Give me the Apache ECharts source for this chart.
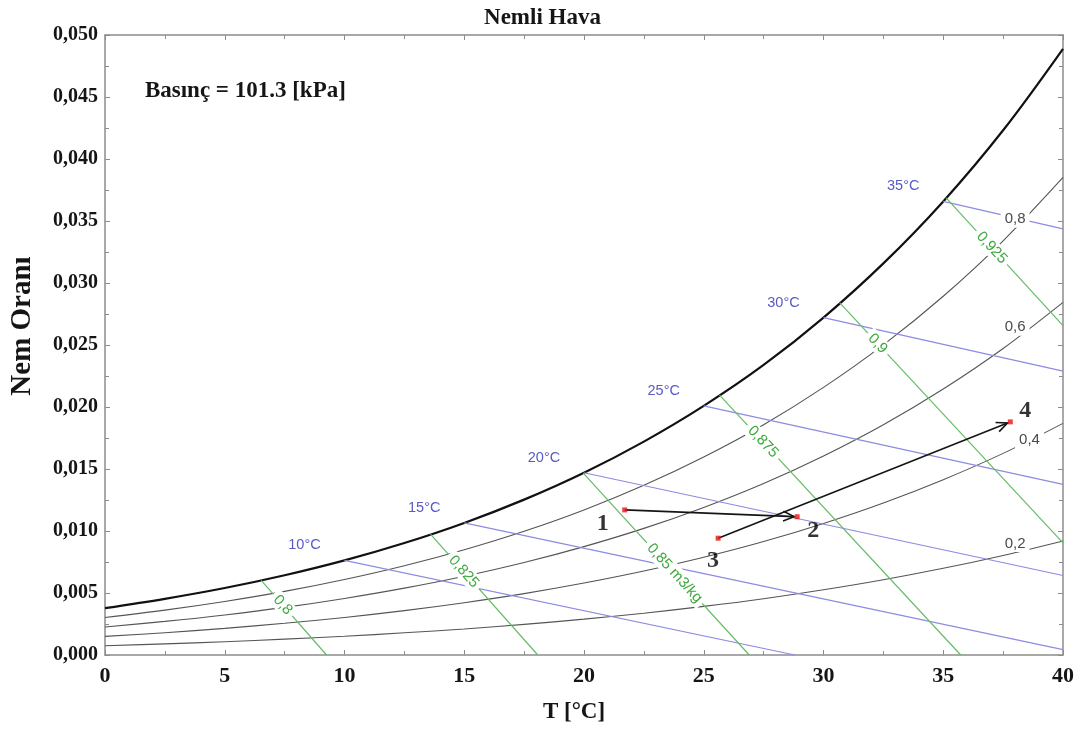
<!DOCTYPE html>
<html>
<head>
<meta charset="utf-8">
<script src="https://cdn.jsdelivr.net/npm/echarts@6/dist/echarts.min.js"></script>
<style>
html,body{margin:0;padding:0;background:#fff;}
#chart{width:1085px;height:734px;}
</style>
</head>
<body>
<div id="chart"></div>
<script>
// ---------- DATA ----------
const T = [0,2.5,5,7.5,10,12.5,15,17.5,20,22.5,25,27.5,30,32.5,35,37.5,40];
const wSat = [0.00378,0.00453,0.00540,0.00643,0.00763,0.00903,0.01065,0.01253,0.01470,0.01721,0.02009,0.02339,0.02721,0.03158,0.03658,0.04232,0.04889];
const rh80 = [0.00302,0.00362,0.00432,0.00513,0.00609,0.00720,0.00849,0.00998,0.01170,0.01369,0.01597,0.01857,0.02158,0.02501,0.02893,0.03340,0.03851];
const rh60 = [0.00226,0.00271,0.00323,0.00384,0.00456,0.00539,0.00635,0.00746,0.00874,0.01021,0.01190,0.01383,0.01605,0.01857,0.02145,0.02472,0.02844];
const rh40 = [0.00150,0.00180,0.00215,0.00256,0.00303,0.00358,0.00422,0.00495,0.00580,0.00677,0.00788,0.00915,0.01061,0.01226,0.01414,0.01626,0.01868];
const rh20 = [0.00075,0.00090,0.00107,0.00128,0.00151,0.00179,0.00210,0.00247,0.00289,0.00337,0.00392,0.00454,0.00526,0.00607,0.00699,0.00803,0.00920];
const rhLabels = ['0,8','0,6','0,4','0,2'];
const rhLabelT = [38.0, 38.0, 38.6, 38.0];

// wet-bulb lines (start on saturation curve, end on the frame)
const wbLabels = ['10°C','15°C','20°C','25°C','30°C','35°C'];
const wbX1 = [10,15,20,25,30,35];
const wbY1 = [0.00763,0.01065,0.01470,0.02009,0.02721,0.03658];
const wbX2 = [28.8,40,40,40,40,40];
const wbY2 = [0,0.00044,0.00641,0.01376,0.02290,0.03437];

// specific volume lines
const volLabels = ['0,8','0,825','0,85 m3/kg','0,875','0,9','0,925'];
const volX1 = [6.52,13.59,19.97,25.66,30.68,35.12];
const volY1 = [0.00601,0.00974,0.01467,0.02096,0.02840,0.03686];
const volX2 = [9.25,18.07,26.9,35.73,40,40];
const volY2 = [0,0,0,0,0.00904,0.02657];

// process states
const ptLabels = ['1','2','3','4'];
const ptT = [21.7,28.9,25.6,37.8];
const ptW = [0.0117,0.01115,0.00942,0.0188];
const arrowFrom = [0,2];
const arrowTo = [1,3];

const xTicks = {min:0,max:40,interval:5};
const yTicks = {min:0,max:0.05,interval:0.005};

// ---------- LAYOUT / STYLE ----------
const SERIF = '"Liberation Serif","Times New Roman",serif';
const SANS = '"Liberation Sans",Arial,sans-serif';
const AXC = '#8c8c8c';
const BLUE_L = '#8c8ce0', BLUE_T = '#5a5ac4';
const GREEN_L = '#66bb66', GREEN_T = '#3ea83e';
const GRAY_L = '#555555', GRAY_T = '#4a4a4a';
const volLabelFrac = [0.33,0.31,0.55,0.18,0.17,0.39];
const rhLabelDy = [-9,-12,0,-9];
const wbLabelOffset = [-40,-15];
const ptLabelOffset = [[-22,14],[16,14],[-5,23],[15,-11]];

const chart = echarts.init(document.getElementById('chart'), null, {renderer:'canvas'});

function axisCommon(pos, showLabel, isX){
  return {
    type:'value', position:pos,
    min: isX ? xTicks.min : yTicks.min,
    max: isX ? xTicks.max : yTicks.max,
    interval: isX ? xTicks.interval : yTicks.interval,
    axisLine:{show:true, onZero:false, lineStyle:{color:AXC, width:1.5}},
    axisTick:{show:true, inside:true, length:5, lineStyle:{color:AXC, width:1}},
    minorTick:{show:true, splitNumber:2, length:4, lineStyle:{color:AXC, width:1}},
    splitLine:{show:false}, minorSplitLine:{show:false},
    axisLabel:{show:showLabel}
  };
}

const xMain = axisCommon('bottom', true, true);
xMain.axisLabel = {show:true, fontFamily:SERIF, fontWeight:'bold', fontSize:22, color:'#151515', margin:10};
xMain.name = 'T [°C]';
xMain.nameLocation = 'middle';
xMain.nameGap = 46;
xMain.nameTextStyle = {fontFamily:SERIF, fontWeight:'bold', fontSize:23, color:'#151515', padding:[0,20,0,0]};

const yMain = axisCommon('left', true, false);
yMain.axisLabel = {show:true, fontFamily:SERIF, fontWeight:'bold', fontSize:20, color:'#151515', margin:7,
  formatter: v => v.toFixed(3).replace('.', ',')};
yMain.name = 'Nem Oranı';
yMain.nameLocation = 'middle';
yMain.nameRotate = 90;
yMain.nameGap = 68;
yMain.nameTextStyle = {fontFamily:SERIF, fontWeight:'bold', fontSize:29, color:'#151515', padding:[0,0,0,38]};

const series = [];
function curve(name, ys, color, width){
  series.push({name, type:'line', data:T.map((t,i)=>[t,ys[i]]), smooth:0.35,
    symbol:'none', silent:true, lineStyle:{color, width}, z:2});
}
curve('sat', wSat, '#111111', 2.2);
curve('rh80', rh80, GRAY_L, 1.1);
curve('rh60', rh60, GRAY_L, 1.1);
curve('rh40', rh40, GRAY_L, 1.1);
curve('rh20', rh20, GRAY_L, 1.1);

wbX1.forEach((x,i)=>{
  series.push({name:'wb'+i, type:'line', data:[[x,wbY1[i]],[wbX2[i],wbY2[i]]], symbol:'none', silent:true,
    lineStyle:{color:BLUE_L, width:1.2}, z:2});
});
volX1.forEach((x,i)=>{
  series.push({name:'vol'+i, type:'line', data:[[x,volY1[i]],[volX2[i],volY2[i]]], symbol:'none', silent:true,
    lineStyle:{color:GREEN_L, width:1.2}, z:2});
});

series.push({
  name:'process', type:'custom', silent:true, z:20,
  data: arrowFrom.map((a,i)=>[ptT[a],ptW[a],ptT[arrowTo[i]],ptW[arrowTo[i]]]),
  encode:{x:[0,2], y:[1,3]},
  renderItem:(params, api)=>{
    const p1 = api.coord([api.value(0), api.value(1)]);
    const p2raw = api.coord([api.value(2), api.value(3)]);
    const ang = Math.atan2(p2raw[1]-p1[1], p2raw[0]-p1[0]);
    const p2 = [p2raw[0]-3*Math.cos(ang), p2raw[1]-3*Math.sin(ang)];
    const L = 12, a = 0.42;
    const h1 = [p2[0]-L*Math.cos(ang-a), p2[1]-L*Math.sin(ang-a)];
    const h2 = [p2[0]-L*Math.cos(ang+a), p2[1]-L*Math.sin(ang+a)];
    return {type:'group', children:[
      {type:'line', shape:{x1:p1[0],y1:p1[1],x2:p2[0],y2:p2[1]}, style:{stroke:'#151515', lineWidth:1.6}},
      {type:'polyline', shape:{points:[h1,p2,h2]}, style:{stroke:'#151515', lineWidth:1.6, fill:null}}
    ]};
  }
});

series.push({
  name:'points', type:'scatter', silent:true, z:30,
  symbol:'rect', symbolSize:5, itemStyle:{color:'#ee1111'},
  data: ptT.map((t,i)=>({value:[t,ptW[i]], label:{show:true, formatter:ptLabels[i], position:'inside',
    offset:ptLabelOffset[i], fontFamily:SERIF, fontWeight:'bold', fontSize:24, color:'#000000',
    textBorderWidth:0, textShadowBlur:0}}))
});

chart.setOption({
  animation:false,
  backgroundColor:'#ffffff',
  title:{text:'Nemli Hava', left:'center', top:2,
    textStyle:{fontFamily:SERIF, fontWeight:'bold', fontSize:23, color:'#151515'}},
  grid:{left:103, right:22, top:35, bottom:79, containLabel:false},
  xAxis:[xMain, axisCommon('top', false, true)],
  yAxis:[yMain, axisCommon('right', false, false)],
  series
});

// ---------- ANNOTATIONS (placed through the axes) ----------
function px(x,y){ return chart.convertToPixel({gridIndex:0}, [x,y]); }
function interp(xs, ys, x){
  for(let i=0;i<xs.length-1;i++){
    if(x>=xs[i] && x<=xs[i+1]){ const f=(x-xs[i])/(xs[i+1]-xs[i]); return ys[i]+f*(ys[i+1]-ys[i]); }
  }
  return ys[ys.length-1];
}
const g = [];
g.push({type:'text', z:50, style:{text:'Basınç = 101.3 [kPa]', x:0, y:0, fill:'#151515',
  font:'bold 23px '+SERIF, align:'left', verticalAlign:'middle'},
  x: px(1.75, 0)[0] - 2, y: px(0, 0.0455)[1]});

wbX1.forEach((x,i)=>{
  const p = px(x, wbY1[i]);
  g.push({type:'text', z:50, x:p[0]+wbLabelOffset[0], y:p[1]+wbLabelOffset[1],
    style:{text:wbLabels[i], x:0, y:0, fill:BLUE_T, font:'14.5px '+SANS, align:'center', verticalAlign:'middle'}});
});
volX1.forEach((x,i)=>{
  const p1 = px(x, volY1[i]), p2 = px(volX2[i], volY2[i]);
  const f = volLabelFrac[i];
  const c = [p1[0]+f*(p2[0]-p1[0]), p1[1]+f*(p2[1]-p1[1])];
  const ang = Math.atan2(p2[1]-p1[1], p2[0]-p1[0]);
  g.push({type:'text', z:50, x:c[0], y:c[1], rotation:-ang,
    style:{text:volLabels[i], x:0, y:0, fill:GREEN_T, font:'15px '+SANS, align:'center', verticalAlign:'middle',
      backgroundColor:'#ffffff', padding:[1,4]}});
});
const rhSets = [rh80, rh60, rh40, rh20];
rhSets.forEach((ys,i)=>{
  const t = rhLabelT[i];
  const p = px(t, interp(T, ys, t));
  g.push({type:'text', z:50, x:p[0], y:p[1]+rhLabelDy[i],
    style:{text:rhLabels[i], x:0, y:0, fill:GRAY_T, font:'15px '+SANS, align:'center', verticalAlign:'middle',
      backgroundColor:'#ffffff', padding:[1,4]}});
});
chart.setOption({graphic:g});
</script>
</body>
</html>
